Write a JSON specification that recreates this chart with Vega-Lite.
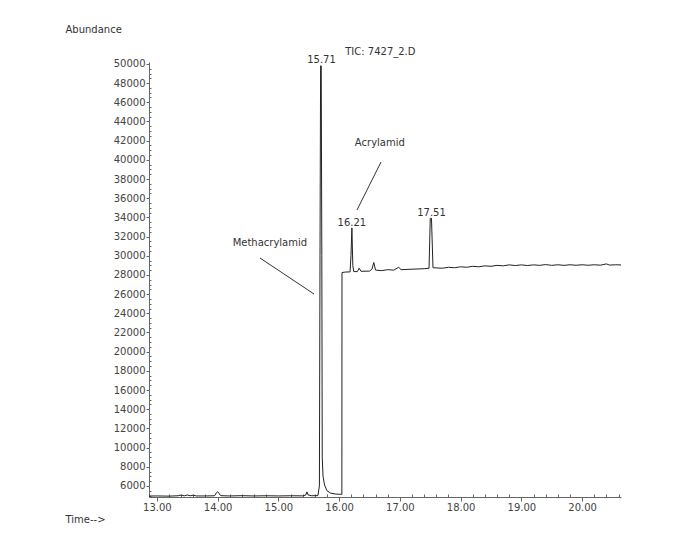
{
  "$schema": "https://vega.github.io/schema/vega-lite/v6.json",
  "autosize": {"type": "none"},
  "padding": {"left": 149, "top": 62, "right": 63, "bottom": 41},
  "width": 472,
  "height": 435,
  "background": "white",
  "config": {
    "view": {"stroke": null},
    "font": "DejaVu Sans",
    "axis": {
      "labelFont": "DejaVu Sans",
      "labelFontSize": 10,
      "labelColor": "#444",
      "titleFont": "DejaVu Sans",
      "titleFontSize": 10,
      "titleFontWeight": "normal",
      "titleColor": "#333",
      "domainColor": "#666",
      "tickColor": "#666",
      "grid": false
    }
  },
  "datasets": {
    "tic": [
      {"t": 12.87, "v": 4950}, {"t": 13.0, "v": 4960}, {"t": 13.2, "v": 4940}, {"t": 13.35, "v": 4980},
      {"t": 13.4, "v": 5050}, {"t": 13.45, "v": 4970}, {"t": 13.5, "v": 5060}, {"t": 13.55, "v": 4980},
      {"t": 13.6, "v": 5040}, {"t": 13.65, "v": 4960}, {"t": 13.8, "v": 4960}, {"t": 13.95, "v": 4980},
      {"t": 13.98, "v": 5300}, {"t": 14.0, "v": 5400}, {"t": 14.02, "v": 5250}, {"t": 14.05, "v": 4990},
      {"t": 14.2, "v": 4960}, {"t": 14.4, "v": 4990}, {"t": 14.6, "v": 4960}, {"t": 14.8, "v": 4980},
      {"t": 15.0, "v": 4960}, {"t": 15.2, "v": 4980}, {"t": 15.4, "v": 4970}, {"t": 15.45, "v": 5050},
      {"t": 15.47, "v": 5380}, {"t": 15.49, "v": 5060}, {"t": 15.55, "v": 4980}, {"t": 15.65, "v": 5000},
      {"t": 15.675, "v": 6000}, {"t": 15.685, "v": 30000}, {"t": 15.695, "v": 49800}, {"t": 15.705, "v": 49800},
      {"t": 15.715, "v": 30000}, {"t": 15.722, "v": 9000}, {"t": 15.735, "v": 7000}, {"t": 15.76, "v": 6100},
      {"t": 15.8, "v": 5500}, {"t": 15.86, "v": 5250}, {"t": 15.95, "v": 5150}, {"t": 16.045, "v": 5130},
      {"t": 16.047, "v": 28250}, {"t": 16.1, "v": 28300}, {"t": 16.18, "v": 28320}, {"t": 16.195, "v": 30000},
      {"t": 16.21, "v": 32900}, {"t": 16.225, "v": 29000}, {"t": 16.24, "v": 28350}, {"t": 16.3, "v": 28350},
      {"t": 16.33, "v": 28700}, {"t": 16.36, "v": 28380}, {"t": 16.5, "v": 28400}, {"t": 16.54, "v": 28600},
      {"t": 16.57, "v": 29300}, {"t": 16.6, "v": 28500}, {"t": 16.7, "v": 28450}, {"t": 16.8, "v": 28550},
      {"t": 16.9, "v": 28500}, {"t": 16.98, "v": 28800}, {"t": 17.02, "v": 28550}, {"t": 17.2, "v": 28600},
      {"t": 17.4, "v": 28650}, {"t": 17.48, "v": 28700}, {"t": 17.5, "v": 33900}, {"t": 17.52, "v": 33900},
      {"t": 17.545, "v": 28750}, {"t": 17.7, "v": 28700}, {"t": 17.8, "v": 28800}, {"t": 17.9, "v": 28750},
      {"t": 18.0, "v": 28850}, {"t": 18.1, "v": 28800}, {"t": 18.2, "v": 28900}, {"t": 18.3, "v": 28850},
      {"t": 18.4, "v": 28950}, {"t": 18.5, "v": 28900}, {"t": 18.6, "v": 29000}, {"t": 18.7, "v": 28950},
      {"t": 18.8, "v": 29050}, {"t": 18.9, "v": 28980}, {"t": 19.0, "v": 29050}, {"t": 19.1, "v": 28980},
      {"t": 19.2, "v": 29050}, {"t": 19.3, "v": 29000}, {"t": 19.4, "v": 29080}, {"t": 19.5, "v": 29000},
      {"t": 19.6, "v": 29060}, {"t": 19.7, "v": 29000}, {"t": 19.8, "v": 29060}, {"t": 19.9, "v": 29010},
      {"t": 20.0, "v": 29060}, {"t": 20.1, "v": 29010}, {"t": 20.2, "v": 29060}, {"t": 20.3, "v": 29020},
      {"t": 20.4, "v": 29150}, {"t": 20.45, "v": 29030}, {"t": 20.55, "v": 29060}, {"t": 20.64, "v": 29040}
    ],
    "labels": [
      {"t": 15.71, "v": 50050, "label": "15.71"},
      {"t": 16.21, "v": 33150, "label": "16.21"},
      {"t": 17.52, "v": 34150, "label": "17.51"},
      {"t": 16.67, "v": 41450, "label": "Acrylamid"},
      {"t": 14.86, "v": 31020, "label": "Methacrylamid"}
    ],
    "header": [
      {"t": 16.1, "v": 50940, "label": "TIC: 7427_2.D"}
    ],
    "pointers": [
      {"t": 14.697, "v": 29766, "t2": 15.586, "v2": 26013},
      {"t": 16.69, "v": 39775, "t2": 16.294, "v2": 34771}
    ]
  },
  "layer": [
    {
      "data": {"name": "tic"},
      "mark": {"type": "line", "color": "#222", "strokeWidth": 1, "clip": true},
      "encoding": {
        "x": {
          "field": "t", "type": "quantitative",
          "scale": {"domain": [12.87, 20.64], "nice": false, "zero": false},
          "axis": {
            "title": "Time-->",
            "titleAngle": 0, "titleAlign": "left", "titleBaseline": "middle",
            "titleX": -84, "titleY": 22,
            "tickCount": 500,
            "values": [13.0, 13.2, 13.4, 13.6, 13.8, 14.0, 14.2, 14.4, 14.6, 14.8, 15.0, 15.2, 15.4, 15.6, 15.8, 16.0, 16.2, 16.4, 16.6, 16.8, 17.0, 17.2, 17.4, 17.6, 17.8, 18.0, 18.2, 18.4, 18.6, 18.8, 19.0, 19.2, 19.4, 19.6, 19.8, 20.0, 20.2, 20.4, 20.6],
            "labelExpr": "abs(datum.value - round(datum.value)) < 0.001 ? format(datum.value, '.2f') : ''",
            "tickSize": {"condition": {"test": "abs(datum.value - round(datum.value)) < 0.001", "value": 4}, "value": -3},
            "labelPadding": 1,
            "labelFlush": false,
            "labelOverlap": false
          }
        },
        "y": {
          "field": "v", "type": "quantitative",
          "scale": {"domain": [4850, 50200], "nice": false, "zero": false},
          "axis": {
            "title": "Abundance",
            "titleAngle": 0, "titleAlign": "left", "titleBaseline": "middle",
            "titleX": -84, "titleY": -33,
            "tickCount": 500,
            "values": [5000, 5500, 6000, 6500, 7000, 7500, 8000, 8500, 9000, 9500, 10000, 10500, 11000, 11500, 12000, 12500, 13000, 13500, 14000, 14500, 15000, 15500, 16000, 16500, 17000, 17500, 18000, 18500, 19000, 19500, 20000, 20500, 21000, 21500, 22000, 22500, 23000, 23500, 24000, 24500, 25000, 25500, 26000, 26500, 27000, 27500, 28000, 28500, 29000, 29500, 30000, 30500, 31000, 31500, 32000, 32500, 33000, 33500, 34000, 34500, 35000, 35500, 36000, 36500, 37000, 37500, 38000, 38500, 39000, 39500, 40000, 40500, 41000, 41500, 42000, 42500, 43000, 43500, 44000, 44500, 45000, 45500, 46000, 46500, 47000, 47500, 48000, 48500, 49000, 49500, 50000],
            "labelExpr": "datum.value % 2000 === 0 && datum.value >= 6000 ? format(datum.value, 'd') : ''",
            "tickSize": {"condition": {"test": "datum.value % 2000 === 0", "value": 3}, "value": -2},
            "labelPadding": 1,
            "labelFlush": false,
            "labelOverlap": false
          }
        }
      }
    },
    {
      "data": {"name": "pointers"},
      "mark": {"type": "rule", "color": "#333", "strokeWidth": 1, "clip": false},
      "encoding": {
        "x": {"field": "t", "type": "quantitative"},
        "y": {"field": "v", "type": "quantitative"},
        "x2": {"field": "t2"},
        "y2": {"field": "v2"}
      }
    },
    {
      "data": {"name": "labels"},
      "mark": {"type": "text", "font": "DejaVu Sans", "fontSize": 10, "color": "#333", "baseline": "alphabetic", "align": "center", "clip": false},
      "encoding": {
        "x": {"field": "t", "type": "quantitative"},
        "y": {"field": "v", "type": "quantitative"},
        "text": {"field": "label"}
      }
    },
    {
      "data": {"name": "header"},
      "mark": {"type": "text", "font": "DejaVu Sans", "fontSize": 10, "color": "#333", "baseline": "alphabetic", "align": "left", "clip": false},
      "encoding": {
        "x": {"field": "t", "type": "quantitative"},
        "y": {"field": "v", "type": "quantitative"},
        "text": {"field": "label"}
      }
    }
  ]
}
